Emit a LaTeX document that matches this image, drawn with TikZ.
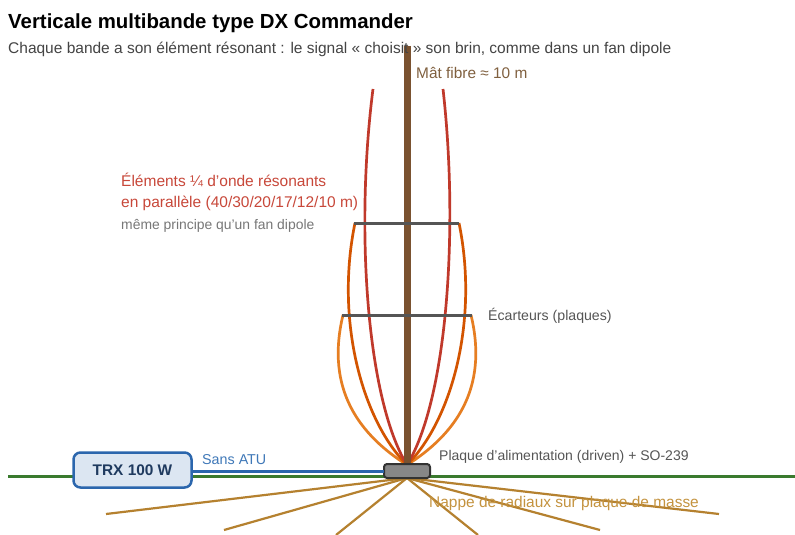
\documentclass[tikz,border=0pt]{standalone}
\usepackage{fontspec}
\setmainfont{Liberation Sans}
\definecolor{mast}{HTML}{7A5230}
\definecolor{masttxt}{HTML}{80603F}
\definecolor{redel}{HTML}{C0392B}
\definecolor{redtxt}{HTML}{C8483A}
\definecolor{dorange}{HTML}{D35400}
\definecolor{lorange}{HTML}{E67E22}
\definecolor{spreader}{HTML}{555555}
\definecolor{ground}{HTML}{3A7A2E}
\definecolor{radial}{HTML}{B5812F}
\definecolor{radtxt}{HTML}{C4933F}
\definecolor{blueline}{HTML}{2B66AD}
\definecolor{bluetxt}{HTML}{3F78B8}
\definecolor{trxfill}{HTML}{DCE6F2}
\definecolor{trxtext}{HTML}{1F3A5F}
\definecolor{subt}{HTML}{444444}
\definecolor{graytxt}{HTML}{777777}
\definecolor{platetxt}{HTML}{555555}
\tikzset{
  x=1pt,y=-1pt,
  lbl/.style={inner sep=0pt,anchor=base west},
  element/.style={line width=2.7pt},
  spreadbar/.style={draw=spreader,line width=3pt},
  radialline/.style={draw=radial,line width=2.2pt},
}
\begin{document}
\begin{tikzpicture}
\useasboundingbox (0,0) rectangle (795,535);
\fill[white] (0,0) rectangle (795,535);
% free ends and anchor points
\coordinate (feed) at (407,465);
\coordinate (radc) at (407,478);
\coordinate (masttop) at (407,46);
\coordinate (gl) at (8,476);
\coordinate (gr) at (795,476);
\foreach \n/\x/\y in {r1/106/514,r2/224/530,r3/336/535,r4/478/535,r5/600/530,r6/719/514}
  \coordinate (\n) at (\x,\y);
% ground
\draw[ground,line width=3pt] (gl) -- (gr);
% radials
\foreach \n in {r1,r2,r3,r4,r5,r6} \draw[radialline] (radc) -- (\n);
% elements
\draw[element,lorange] (feed) .. controls (360,435) and (325,390) .. (343,315);
\draw[element,lorange] (feed) .. controls (454,435) and (489,390) .. (471,315);
\draw[element,dorange] (feed) .. controls (362,420) and (335,320) .. (355,223);
\draw[element,dorange] (feed) .. controls (452,420) and (479,320) .. (459,223);
\draw[element,redel] (feed) .. controls (367,400) and (355,230) .. (373,89);
\draw[element,redel] (feed) .. controls (447,400) and (459,230) .. (443,89);
% mast
\draw[mast,line width=7pt] (masttop) -- (feed);
% spreaders
\coordinate (s1l) at (354,223); \coordinate (s1r) at (459,223);
\coordinate (s2l) at (342,315); \coordinate (s2r) at (472,315);
\draw[spreadbar] (s1l) -- (s1r);
\draw[spreadbar] (s2l) -- (s2r);
% plate and TRX
\node[draw=black!80,fill=black!47,line width=2pt,rounded corners=3pt,minimum width=46pt,minimum height=14pt,inner sep=0pt,outer sep=0pt] (plate) at (407,471) {};
\node[draw=blueline,fill=trxfill,line width=2.5pt,rounded corners=7pt,minimum width=118pt,minimum height=35pt,inner sep=0pt,outer sep=0pt,text=trxtext,font=\bfseries\fontsize{15.4}{18}\selectfont] (trx) at (132.5,470) {TRX 100 W};
\draw[blueline,line width=3pt] (trx.east |- 0,471) -- (plate.west |- 0,471);
% texts
\node[lbl,font=\bfseries\fontsize{20.4}{24}\selectfont,text=black] (title) at (8,29) {Verticale multibande type DX Commander};
\node[lbl,font=\fontsize{15.5}{18}\selectfont,text=subt] (sub) at (8,53) {Chaque bande a son élément résonant : le signal « choisit » son brin, comme dans un fan dipole};
\node[lbl,text=masttxt,font=\fontsize{15.4}{18}\selectfont] (mastl) at (416,78) {Mât fibre ≈ 10 m};
\node[lbl,text=redtxt,font=\fontsize{15.5}{18}\selectfont] (el1) at (121,186) {Éléments ¼ d’onde résonants};
\node[lbl,text=redtxt,font=\fontsize{15.5}{18}\selectfont] (el2) at (121,207) {en parallèle (40/30/20/17/12/10 m)};
\node[lbl,text=graytxt,font=\fontsize{13.9}{17}\selectfont] (el3) at (121,229) {même principe qu’un fan dipole};
\node[lbl,text=platetxt,font=\fontsize{14.15}{17}\selectfont] (ecl) at (488,320) {Écarteurs (plaques)};
\node[lbl,text=platetxt,font=\fontsize{14}{17}\selectfont] (pl) at (439,460) {Plaque d’alimentation (driven) + SO-239};
\node[lbl,text=bluetxt,font=\fontsize{14.3}{17}\selectfont] (atu) at (202,464) {Sans ATU};
\node[lbl,text=radtxt,font=\fontsize{15.45}{18}\selectfont] (nap) at (429,507) {Nappe de radiaux sur plaque de masse};
\end{tikzpicture}
\end{document}
